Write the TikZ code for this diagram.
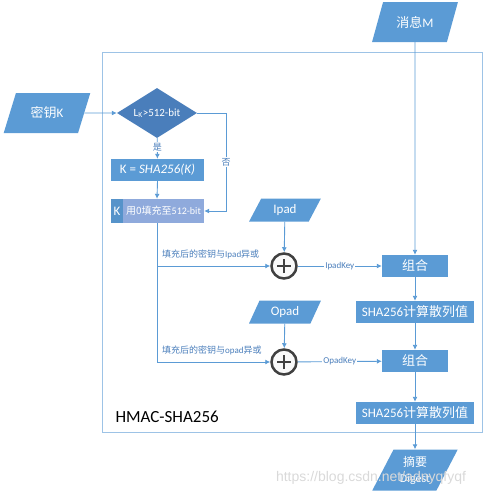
\documentclass[tikz,border=0pt]{standalone}
\usepackage{fontspec}
\setmainfont{Carlito}
\newfontfamily\cjk{Noto Sans CJK SC}
\newfontfamily\wmfont{Liberation Sans}
\newcommand{\zh}[1]{{\cjk #1}}
\usetikzlibrary{shapes.geometric,arrows.meta}
\definecolor{boxblue}{HTML}{5B9BD5}
\definecolor{darkblue}{HTML}{4A7EBB}
\definecolor{lavender}{HTML}{8FAADC}
\definecolor{framec}{HTML}{9DC3E6}
\definecolor{lblblue}{HTML}{4A7EBB}
\tikzset{
    io/.style={trapezium, trapezium left angle=62, trapezium right angle=118, trapezium stretches=true,
        fill=boxblue, text=white, inner sep=0pt, font=\fontsize{13}{14}\selectfont},
    proc/.style={rectangle, fill=boxblue, text=white, inner sep=0pt, minimum height=22pt,
        font=\fontsize{13}{14}\selectfont},
    decision/.style={diamond, fill=darkblue, text=white, inner sep=0pt, aspect=1.6,
        minimum width=80pt, minimum height=50pt, font=\fontsize{11}{12}\selectfont},
    xorop/.style={circle, draw=black!75, line width=2.5pt, fill=gray!5, minimum size=25pt, inner sep=0pt,
        path picture={\draw[black!75, line width=2.5pt]
            ([xshift=-7pt]path picture bounding box.center) -- ([xshift=7pt]path picture bounding box.center)
            ([yshift=-7pt]path picture bounding box.center) -- ([yshift=7pt]path picture bounding box.center);}},
    flow/.style={draw=boxblue, line width=0.9pt, -{Latex[length=5pt,width=5pt]}},
    linelbl/.style={text=lblblue, font=\fontsize{9}{10}\selectfont, inner sep=1pt},
}
\begin{document}
\begin{tikzpicture}[x=1pt, y=-1pt]
    \useasboundingbox (0,0) rectangle (487,496);
    % frame
    \draw[framec, line width=1pt] (102,52) rectangle (482,432);
    \node[anchor=west, font=\fontsize{17}{18}\selectfont] (title) at (112,417) {HMAC-SHA256};

    % key branch
    \node[io, minimum width=87pt, minimum height=40pt] (keyK) at (47,113) {\zh{密钥}K};
    \node[decision] (check) at (157,113) {L\textsubscript{K}>512-bit};
    \node[proc, minimum width=93pt] (hashK) at (157.5,170) {K = \textit{SHA256(K)}};
    \node[proc, fill=boxblue!95!black, minimum width=12pt, minimum height=24pt] (kpart) at (117,211) {K};
    \node[proc, fill=lavender, minimum width=81pt, minimum height=24pt, font=\fontsize{10}{11}\selectfont] (padfill) at (163.5,211) {\zh{用0填充至}512-bit};
    \coordinate (noturn) at (226,113);
    \coordinate (split) at (157,223);

    % pads and xor
    \node[io, minimum width=72pt, minimum height=23pt] (ipad) at (285,210) {Ipad};
    \node[xorop] (xor1) at (284,266) {};
    \node[io, minimum width=72pt, minimum height=23pt] (opad) at (285,312) {Opad};
    \node[xorop] (xor2) at (284,362) {};
    \node[linelbl, anchor=south west] (lbl1) at (161,260) {\zh{填充后的密钥与}Ipad\zh{异或}};
    \node[linelbl, anchor=south west] (lbl2) at (161,356) {\zh{填充后的密钥与}opad\zh{异或}};

    % message branch
    \node[io, minimum width=86pt, minimum height=40pt] (msgM) at (415,22) {\zh{消息}M};
    \node[proc, minimum width=66pt] (mix1) at (415,266) {\zh{组合}};
    \node[proc, minimum width=118pt] (hash1) at (415,312) {SHA256\zh{计算散列值}};
    \node[proc, minimum width=66pt] (mix2) at (415,361) {\zh{组合}};
    \node[proc, minimum width=118pt] (hash2) at (415,413) {SHA256\zh{计算散列值}};
    \node[io, minimum width=86pt, minimum height=41pt, align=center, font=\fontsize{12}{16}\selectfont] (digest) at (415,470) {\zh{摘要}\\Digest};

    % connectors
    \draw[flow] (keyK) -- (check);
    \draw[flow] (check) -- node[linelbl, fill=white, pos=0.45] {\zh{是}} (hashK);
    \draw[flow] (check.east) -- (noturn) |- node[linelbl, fill=white, pos=0.25] {\zh{否}} (padfill.east);
    \draw[flow] (hashK.south) -- (split |- padfill.north);
    \draw[flow] (split) |- (xor1.west);
    \draw[flow] (split) |- (xor2.west);
    \draw[flow] (ipad) -- (xor1);
    \draw[flow] (opad) -- (xor2);
    \draw[flow] (xor1) -- node[linelbl, fill=white] {IpadKey} (mix1);
    \draw[flow] (xor2) -- node[linelbl, fill=white] {OpadKey} (mix2);
    \draw[flow] (msgM) -- (mix1);
    \draw[flow] (mix1) -- (hash1);
    \draw[flow] (hash1) -- (mix2);
    \draw[flow] (mix2) -- (hash2);
    \draw[flow] (hash2) -- (digest);

    % watermark
    \node[text=gray!30, font=\wmfont\fontsize{14}{15}\selectfont] (mark) at (371,478) {https://blog.csdn.net/adnyqfyqf};
\end{tikzpicture}
\end{document}
